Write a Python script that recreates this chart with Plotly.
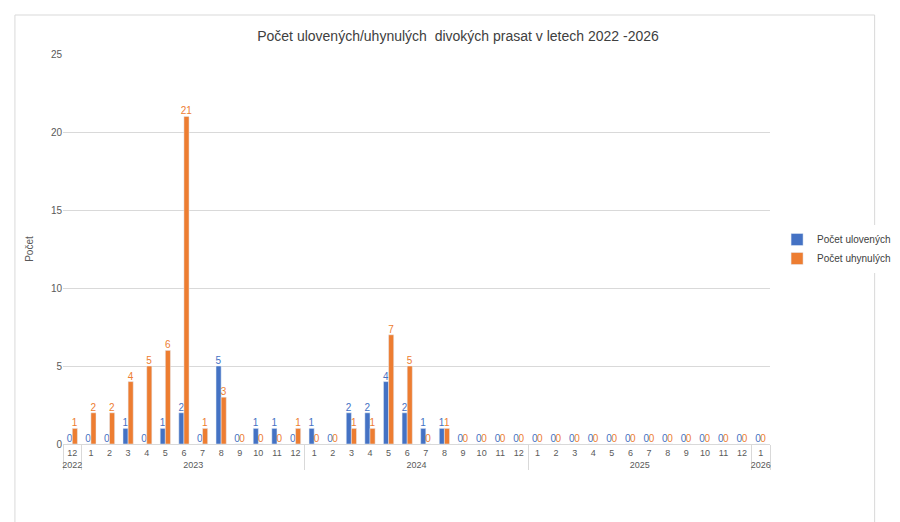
import plotly.graph_objects as go

years = ["2022"] + ["2023"] * 12 + ["2024"] * 12 + ["2025"] * 12 + ["2026"]
# zero-width space keeps 2022's "12" distinct from 2023's "12"
months = ["12\u200b"] + [str(m) for m in range(1, 13)] * 3 + ["1\u200b"]

ulovenych = [0,
             0, 0, 1, 0, 1, 2, 0, 5, 0, 1, 1, 0,
             1, 0, 2, 2, 4, 2, 1, 1, 0, 0, 0, 0,
             0, 0, 0, 0, 0, 0, 0, 0, 0, 0, 0, 0,
             0]
uhynulych = [1,
             2, 2, 4, 5, 6, 21, 1, 3, 0, 0, 0, 1,
             0, 0, 1, 1, 7, 5, 0, 1, 0, 0, 0, 0,
             0, 0, 0, 0, 0, 0, 0, 0, 0, 0, 0, 0,
             0]

blue = "#4472C4"
orange = "#ED7D31"

fig = go.Figure()
fig.add_trace(go.Bar(x=[years, months], y=ulovenych, name="Počet ulovených",
                     marker_color=blue, text=ulovenych, textposition="outside",
                     constraintext="none",
                     textfont=dict(color=blue, size=10), cliponaxis=False))
fig.add_trace(go.Bar(x=[years, months], y=uhynulych, name="Počet uhynulých",
                     marker_color=orange, text=uhynulych, textposition="outside",
                     constraintext="none",
                     textfont=dict(color=orange, size=10), cliponaxis=False))

fig.update_layout(
    width=900, height=522,
    paper_bgcolor="white", plot_bgcolor="white",
    font=dict(family="Liberation Sans, Arial", size=10, color="#595959"),
    title=dict(text="Počet ulovených/uhynulých  divokých prasat v letech 2022 -2026",
               x=0.5, y=0.955, xanchor="center", font=dict(size=14, color="#404040")),
    barmode="group", bargap=0.45, bargroupgap=0.0,
    uniformtext=dict(minsize=9, mode="show"),
    margin=dict(l=55, r=115, t=46, b=86),
    legend=dict(x=1.01, y=0.5, yanchor="middle", font=dict(size=10, color="#404040")),
    yaxis=dict(range=[0, 25], dtick=5, gridcolor="#D9D9D9", zeroline=False,
               title=dict(text="Počet", font=dict(size=10)), ticks="", showline=False),
    xaxis=dict(showline=True, linecolor="#D9D9D9", showdividers=True,
               dividercolor="#D9D9D9", tickfont=dict(size=9)),
    shapes=[dict(type="rect", xref="paper", yref="paper",
                 x0=-0.068, x1=1.148, y0=-0.205, y1=1.1,
                 line=dict(color="#D9D9D9", width=1))],
)

fig.write_html("out.html")
